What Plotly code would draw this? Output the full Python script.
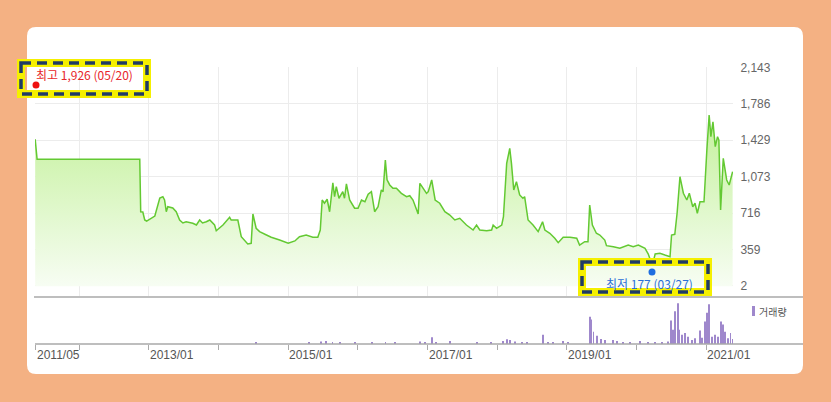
import plotly.graph_objects as go

# ---------------- data ----------------
price_dates = [
    "2011-05-16", "2011-05-26", "2012-11-14", "2012-11-19", "2012-11-30", "2012-12-10", "2012-12-20",
    "2013-01-06", "2013-02-01", "2013-02-27", "2013-03-15", "2013-03-24", "2013-04-02", "2013-04-10",
    "2013-05-06", "2013-05-24", "2013-06-11", "2013-06-28", "2013-07-15", "2013-08-19", "2013-09-07",
    "2013-09-24", "2013-10-09", "2013-10-29", "2013-11-16", "2013-12-11", "2013-12-20", "2014-01-24",
    "2014-02-28", "2014-03-08", "2014-04-12", "2014-04-30", "2014-06-03", "2014-06-21", "2014-06-30",
    "2014-07-17", "2014-08-04", "2014-09-09", "2014-10-04", "2014-11-17", "2015-01-01", "2015-02-05",
    "2015-03-01", "2015-04-05", "2015-05-10", "2015-06-05", "2015-06-18", "2015-06-28", "2015-07-10",
    "2015-07-24", "2015-08-06", "2015-08-23", "2015-09-01", "2015-09-10", "2015-09-24", "2015-10-14",
    "2015-10-23", "2015-11-02", "2015-11-19", "2015-12-15", "2016-01-02", "2016-01-20", "2016-02-07",
    "2016-02-24", "2016-03-12", "2016-03-29", "2016-04-16", "2016-05-03", "2016-05-12", "2016-05-24",
    "2016-06-02", "2016-06-16", "2016-07-03", "2016-07-21", "2016-08-16", "2016-09-12", "2016-09-29",
    "2016-10-16", "2016-11-12", "2016-11-21", "2016-12-08", "2016-12-26", "2017-01-04", "2017-01-22",
    "2017-02-09", "2017-03-05", "2017-04-01", "2017-04-27", "2017-05-23", "2017-06-18", "2017-07-23",
    "2017-08-27", "2017-09-14", "2017-10-01", "2017-11-06", "2017-12-02", "2017-12-10", "2017-12-28",
    "2018-01-24", "2018-02-02", "2018-02-19", "2018-03-07", "2018-03-16", "2018-03-28", "2018-04-11",
    "2018-04-28", "2018-05-15", "2018-05-24", "2018-06-11", "2018-07-07", "2018-08-03", "2018-08-26",
    "2018-09-07", "2018-10-03", "2018-10-29", "2018-11-16", "2018-12-12", "2019-01-17", "2019-02-21",
    "2019-03-08", "2019-04-04", "2019-04-21", "2019-04-30", "2019-05-14", "2019-06-04", "2019-06-22",
    "2019-07-18", "2019-07-27", "2019-09-01", "2019-10-05", "2019-11-18", "2019-12-14", "2020-01-10",
    "2020-02-14", "2020-03-02", "2020-03-23", "2020-04-07", "2020-05-02", "2020-05-28", "2020-06-24",
    "2020-07-02", "2020-07-19", "2020-07-31", "2020-08-15", "2020-09-02", "2020-09-20", "2020-10-03",
    "2020-10-21", "2020-11-02", "2020-11-14", "2020-11-28", "2020-12-19", "2021-01-03", "2021-01-15",
    "2021-01-24", "2021-02-04", "2021-02-16", "2021-02-28", "2021-03-07", "2021-03-16", "2021-03-30",
    "2021-04-17", "2021-04-30", "2021-05-18",
]
price_values = [
    1438, 1242, 1242, 729, 726, 648, 638,
    658, 687, 864, 876, 844, 729, 778,
    766, 729, 648, 619, 631, 616, 599,
    648, 619, 631, 648, 599, 543, 599,
    674, 648, 648, 485, 413, 420, 707,
    567, 534, 501, 479, 452, 420, 443,
    485, 501, 479, 479, 550, 844, 812,
    851, 729, 1013, 876, 974, 861, 925,
    861, 1001, 844, 763, 763, 844, 827,
    900, 925, 729, 778, 942, 925, 1236,
    1041, 991, 958, 958, 909, 876, 886,
    844, 707, 1007, 958, 909, 925, 1040,
    844, 812, 729, 697, 648, 665, 599,
    550, 599, 550, 543, 550, 599, 567,
    599, 680, 1203, 1350, 1203, 942, 1023,
    893, 861, 876, 648, 599, 534, 631,
    550, 518, 469, 426, 479, 479, 469,
    403, 436, 436, 795, 599, 518, 501,
    452, 397, 387, 371, 403, 387, 403,
    371, 315, 200, 315, 322, 305, 289,
    501, 508, 714, 1072, 910, 844, 910,
    778, 812, 714, 827, 827, 1333, 1676,
    1464, 1610, 1366, 1464, 1431, 746, 1252,
    1040, 991, 1121,
]

vol_dates = [
    "2014-07-17", "2015-04-22", "2015-06-23", "2015-07-20", "2015-08-21", "2015-09-28", "2015-12-15",
    "2016-03-13", "2016-05-25", "2016-07-12", "2016-11-21", "2016-12-16", "2017-01-22", "2017-02-14",
    "2017-04-27", "2017-09-14", "2017-11-28", "2018-01-31", "2018-02-19", "2018-03-07", "2018-04-02",
    "2018-05-08", "2018-06-04", "2018-08-29", "2018-09-23", "2018-10-19", "2018-12-12", "2019-01-06",
    "2019-04-30", "2019-05-08", "2019-05-20", "2019-06-06", "2019-06-27", "2019-07-18", "2019-08-29",
    "2019-09-19", "2019-10-21", "2019-11-27", "2020-01-19", "2020-03-01", "2020-04-07", "2020-05-13",
    "2020-06-13", "2020-06-28", "2020-07-11", "2020-07-21", "2020-08-03", "2020-08-11", "2020-08-24",
    "2020-09-11", "2020-09-28", "2020-10-16", "2020-11-02", "2020-11-28", "2020-12-09", "2020-12-24",
    "2021-01-06", "2021-01-13", "2021-01-29", "2021-02-16", "2021-03-04", "2021-03-18", "2021-03-30",
    "2021-04-08", "2021-04-25", "2021-05-07", "2021-05-18",
]
vol_values = [
    10, 10, 25, 30, 20, 20, 15,
    15, 20, 10, 25, 20, 67, 15,
    30, 10, 15, 30, 47, 40, 25,
    20, 15, 90, 20, 20, 30, 20,
    267, 240, 120, 80, 50, 40, 40,
    30, 15, 15, 30, 20, 20, 20,
    25, 230, 140, 320, 400, 140, 90,
    107, 70, 40, 57, 133, 60, 220,
    307, 390, 70, 90, 70, 220, 190,
    120, 57, 107, 50,
]

price_tick_vals = [2, 359, 716, 1073, 1429, 1786, 2143]
price_tick_text = ["2", "359", "716", "1,073", "1,429", "1,786", "2,143"]

grid_dates = ["2011-05-20", "2012-01-01", "2013-01-01", "2014-01-01", "2015-01-01", "2016-01-01",
              "2017-01-01", "2018-01-01", "2019-01-01", "2020-01-01", "2021-01-01"]
label_dates = ["2011-05-20", "2013-01-01", "2015-01-01", "2017-01-01", "2019-01-01", "2021-01-01"]
label_texts = ["2011/05", "2013/01", "2015/01", "2017/01", "2019/01", "2021/01"]

high_text = "최고 1,926 (05/20)"
low_text = "최저 177 (03/27)"
vol_legend = "거래량"

# ---------------- layout helpers ----------------
W, H = 831, 402
L, R, T, B = 35, 98, 67, 58
PW = W - L - R
PH = H - T - B


def px(x):
    return (x - L) / PW


def py(y):
    return (H - B - y) / PH


FONT = "Liberation Sans, Noto Sans CJK KR, sans-serif"
KFONT = "Noto Sans CJK KR, Liberation Sans, sans-serif"

fig = go.Figure()

fig.add_trace(go.Scatter(
    x=price_dates, y=price_values, mode="lines",
    line=dict(color="#63c932", width=1.5),
    fill="tozeroy",
    fillgradient=dict(type="vertical", start=0, stop=1500,
                      colorscale=[[0, "#f7fdf3"], [1, "#c9f2a4"]]),
    xaxis="x", yaxis="y", hoverinfo="skip",
))

fig.add_trace(go.Bar(
    x=vol_dates, y=vol_values, marker=dict(color="#9f88cc", line=dict(width=0)),
    width=86400000 * 5, xaxis="x2", yaxis="y2", hoverinfo="skip",
))

xr = ["2011-05-15", "2021-05-20"]

fig.update_layout(
    width=W, height=H,
    margin=dict(l=L, r=R, t=T, b=B, pad=0),
    paper_bgcolor="#F4B183",
    plot_bgcolor="rgba(0,0,0,0)",
    showlegend=False,
    font=dict(family=FONT, size=12, color="#666666"),
    xaxis=dict(domain=[0, 1], range=xr, type="date", anchor="y",
               tickvals=grid_dates, showticklabels=False, ticks="",
               showgrid=True, gridcolor="#ececec", gridwidth=1, zeroline=False, showline=False),
    yaxis=dict(domain=[py(296), 1], range=[-96, 2146], side="right", anchor="x",
               tickvals=price_tick_vals, ticktext=price_tick_text,
               ticks="outside", ticklen=4, tickcolor="rgba(0,0,0,0)",
               tickfont=dict(size=12, color="#666666", family=FONT),
               showgrid=True, gridcolor="#ececec", gridwidth=1, zeroline=False, showline=False),
    xaxis2=dict(domain=[0, 1], range=xr, type="date", anchor="y2", matches="x",
                tickvals=grid_dates, showticklabels=False, ticks="outside", ticklen=5,
                tickcolor="#aaaaaa", showgrid=False, zeroline=False, showline=False),
    yaxis2=dict(domain=[0, py(297)], range=[0, 460], anchor="x2",
                showticklabels=False, ticks="", showgrid=False, zeroline=False, showline=False),
)

shapes = []
# white rounded panel
x0, x1, y0, y1, r = px(27), px(803), py(27), py(374), 9
rx, ry = r / PW, r / PH
path = (f"M {x0+rx},{y0} L {x1-rx},{y0} Q {x1},{y0} {x1},{y0-ry} "
        f"L {x1},{y1+ry} Q {x1},{y1} {x1-rx},{y1} L {x0+rx},{y1} Q {x0},{y1} {x0},{y1+ry} "
        f"L {x0},{y0-ry} Q {x0},{y0} {x0+rx},{y0} Z")
shapes.append(dict(type="path", path=path, xref="paper", yref="paper",
                   fillcolor="white", line=dict(width=0), layer="below"))
# separator lines of the volume panel
shapes.append(dict(type="line", xref="paper", yref="paper", x0=px(34), x1=px(803),
                   y0=py(297), y1=py(297), line=dict(color="#a8a8a8", width=1.5)))
shapes.append(dict(type="line", xref="paper", yref="paper", x0=px(35), x1=px(803),
                   y0=py(344), y1=py(344), line=dict(color="#a8a8a8", width=1.5)))
# volume legend marker
shapes.append(dict(type="rect", xref="paper", yref="paper", x0=px(752), x1=px(755),
                   y0=py(316), y1=py(306), fillcolor="#9f88cc", line=dict(width=0)))
# high/low dots
shapes.append(dict(type="circle", xref="paper", yref="paper", x0=px(32.5), x1=px(39.5),
                   y0=py(88.5), y1=py(81.5), fillcolor="#ee1111", line=dict(width=0)))
shapes.append(dict(type="circle", xref="paper", yref="paper", x0=px(648.5), x1=px(655.5),
                   y0=py(275.5), y1=py(268.5), fillcolor="#1e6ee0", line=dict(width=0)))
# highlight boxes
for (bx0, by0, bx1, by1) in [(21, 63, 147, 94), (582, 262, 708, 292)]:
    shapes.append(dict(type="rect", xref="paper", yref="paper", x0=px(bx0), x1=px(bx1),
                       y0=py(by0), y1=py(by1), line=dict(color="#f5f000", width=8)))
    shapes.append(dict(type="rect", xref="paper", yref="paper", x0=px(bx0), x1=px(bx1),
                       y0=py(by0), y1=py(by1), line=dict(color="#1f3b66", width=3.5, dash="10px,6px")))
fig.update_layout(shapes=shapes)

annotations = []
for d, t in zip(label_dates, label_texts):
    annotations.append(dict(x=d, y=py(355), xref="x2", yref="paper", text=t, showarrow=False,
                            xanchor="left", yanchor="middle", xshift=-1,
                            font=dict(size=12, color="#555555", family=FONT)))
annotations.append(dict(x=px(34), y=py(74), xref="paper", yref="paper", text=high_text,
                        showarrow=False, xanchor="left", yanchor="middle",
                        font=dict(size=12, color="#e8262a", family=KFONT)))
annotations.append(dict(x=px(604), y=py(283), xref="paper", yref="paper", text=low_text,
                        showarrow=False, xanchor="left", yanchor="middle",
                        font=dict(size=12, color="#2b6fd8", family=KFONT)))
annotations.append(dict(x=px(757), y=py(311), xref="paper", yref="paper", text=vol_legend,
                        showarrow=False, xanchor="left", yanchor="middle",
                        font=dict(size=10, color="#555555", family=KFONT)))
fig.update_layout(annotations=annotations)

fig.write_html("out.html", config={"displayModeBar": False},
               post_script="document.body.style.margin='0';document.body.style.overflow='hidden';")
